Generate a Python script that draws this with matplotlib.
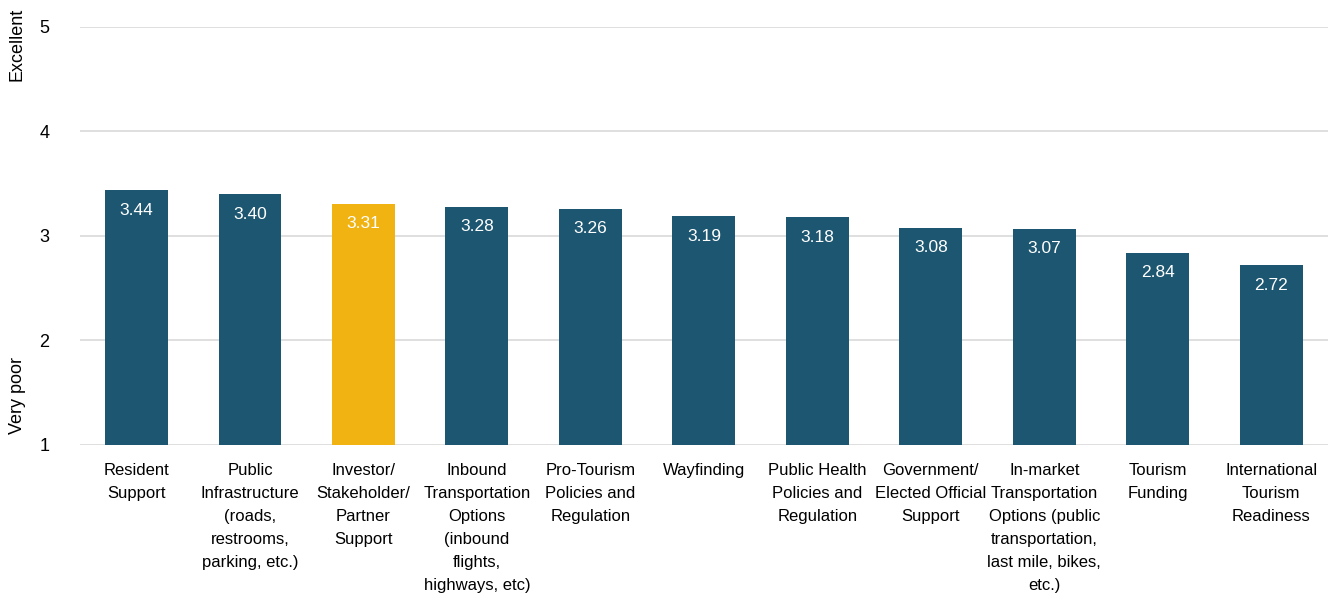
import matplotlib

matplotlib.use("Agg")
import matplotlib.pyplot as plt
import numpy as np

plt.rcParams["font.family"] = ["Liberation Sans Narrow", "Liberation Sans", "DejaVu Sans"]

categories = [
    "Resident\nSupport",
    "Public\nInfrastructure\n(roads,\nrestrooms,\nparking, etc.)",
    "Investor/\nStakeholder/\nPartner\nSupport",
    "Inbound\nTransportation\nOptions\n(inbound\nflights,\nhighways, etc)",
    "Pro-Tourism\nPolicies and\nRegulation",
    "Wayfinding",
    "Public Health\nPolicies and\nRegulation",
    "Government/\nElected Official\nSupport",
    "In-market\nTransportation\nOptions (public\ntransportation,\nlast mile, bikes,\netc.)",
    "Tourism\nFunding",
    "International\nTourism\nReadiness",
]
scores = [3.44, 3.40, 3.31, 3.28, 3.26, 3.19, 3.18, 3.08, 3.07, 2.84, 2.72]
highlight = 2  # Investor/Stakeholder/Partner Support

teal = "#1d5670"
gold = "#f0b312"
colors = [gold if i == highlight else teal for i in range(len(scores))]

fig = plt.figure(figsize=(13.3, 5.96), dpi=100)
ax = fig.add_axes([0.060, 0.2534, 0.9385, 0.7013])

x = np.arange(len(scores))
base = 1
bars = ax.bar(x, np.array(scores) - base, bottom=base, width=0.555, color=colors, zorder=3)

for xi, v in zip(x, scores):
    ax.annotate(f"{v:.2f}", (xi, v), xytext=(0, -14.5), textcoords="offset points",
                ha="center", va="center", color="white", fontsize=12.5, zorder=4)

ax.set_xlim(-0.5, len(scores) - 0.5)
ax.set_ylim(1, 5)
ax.set_yticks([1, 2, 3, 4, 5])
ax.yaxis.grid(True, color="#d9d9d9", linewidth=1.2, zorder=0)
ax.set_axisbelow(True)

ax.set_xticks(x)
ax.set_xticklabels(categories, fontsize=12, linespacing=1.66, va="top")
ax.tick_params(axis="x", length=0, pad=13)
ax.tick_params(axis="y", length=0, pad=22, labelsize=13)

for spine in ax.spines.values():
    spine.set_visible(False)

fig.text(0.013, 0.925, "Excellent", rotation=90, ha="center", va="center", fontsize=13)
fig.text(0.013, 0.337, "Very poor", rotation=90, ha="center", va="center", fontsize=13)

fig.savefig("out.png", dpi=100)
